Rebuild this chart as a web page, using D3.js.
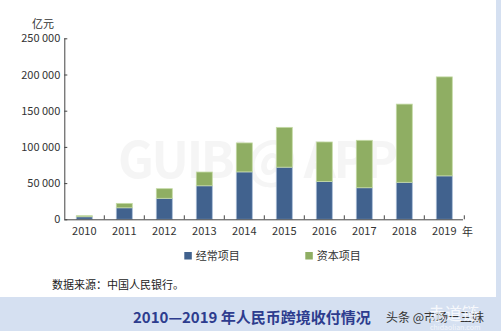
<!DOCTYPE html>
<html><head><meta charset="utf-8">
<script src="https://cdn.jsdelivr.net/npm/d3@7"></script>
<style>
html,body{margin:0;padding:0;background:#d5e0f1;}
svg{display:block;}
text{font-family:"Noto Sans CJK SC","Noto Sans",sans-serif;}
</style></head>
<body>
<svg id="c" width="501" height="331"></svg>
<script>
const years = ["2010","2011","2012","2013","2014","2015","2016","2017","2018","2019"];
const currentAccount = [3500, 15900, 29000, 46300, 65500, 72000, 52300, 43600, 51100, 60000];
const capitalAccount = [1500, 6100, 13300, 19000, 40000, 55000, 54500, 65500, 108000, 136700];
const seriesNames = ["经常项目", "资本项目"];
const yTicks = [0, 50000, 100000, 150000, 200000, 250000];
const colors = ["#41628e", "#8fae63"];
const strokes = ["#a9bdd6", "#c5dba6"];

const svg = d3.select("#c");
svg.append("rect").attr("x",0).attr("y",0).attr("width",496).attr("height",297).attr("fill","#ffffff");

const x = d3.scaleBand().domain(years).range([64.3, 464.3]).paddingInner(0.6).paddingOuter(0.3);
const y = d3.scaleLinear().domain([0, 250000]).range([219.3, 38.3]);

// watermark
svg.append("text").attr("x", 118).attr("y", 178).attr("font-size", 50).attr("font-weight", "bold")
  .attr("font-family", "'DejaVu Sans',sans-serif").attr("fill", "#cfcfcf").attr("opacity", 0.2)
  .attr("textLength", 280).text("GUIBI@ APP");

const data = years.map((yr, i) => ({year: yr, vals: [currentAccount[i], capitalAccount[i]]}));
const stack = d3.stack().keys([0,1]).value((d,k) => d.vals[k]);
const stacked = stack(data);

stacked.forEach((layer, k) => {
  svg.append("g").selectAll("rect").data(layer).enter().append("rect")
    .attr("x", d => x(d.data.year))
    .attr("width", x.bandwidth())
    .attr("y", d => y(d[1]))
    .attr("height", d => y(d[0]) - y(d[1]))
    .attr("fill", colors[k])
    .attr("stroke", strokes[k])
    .attr("stroke-width", 0.8);
});

// y axis
const yAxis = d3.axisRight(y).tickValues(yTicks).tickSize(3).tickFormat(d => d3.format(",")(d).replace(/,/g, " "));
const gy = svg.append("g").attr("transform", "translate(64.3,0)").call(yAxis);
gy.select(".domain").attr("stroke", "#444").attr("d", "M0.5," + y(250000) + "V" + y(0));
gy.selectAll(".tick line").attr("stroke", "#444");
gy.selectAll(".tick text").attr("x", -4).attr("text-anchor", "end").attr("font-size", 11).attr("fill", "#333")
  .attr("font-family", "'Noto Sans CJK SC',sans-serif");

svg.append("text").attr("x", 32).attr("y", 28).attr("font-size", 11).attr("fill", "#333").text("亿元");

// x axis
const gx = svg.append("g").attr("transform", "translate(0," + y(0) + ")");
gx.append("line").attr("x1", 64.3).attr("x2", 463).attr("y1", 0.5).attr("y2", 0.5).attr("stroke", "#444");
const boundaries = years.slice(1).map(yr => x(yr) - x.step() * x.paddingInner() / 2 - x.bandwidth() * 0 ).map(v => v);
// compute category boundaries from band scale
const bnd = years.map(yr => x(yr) + x.bandwidth() / 2 + x.step() / 2);
gx.selectAll("line.tk").data(bnd).enter().append("line").attr("class","tk")
  .attr("x1", d => d).attr("x2", d => d).attr("y1", 0).attr("y2", -4).attr("stroke", "#444");
gx.selectAll("text").data(years).enter().append("text")
  .attr("x", d => x(d) + x.bandwidth() / 2).attr("y", 16).attr("text-anchor", "middle")
  .attr("font-size", 11).attr("fill", "#333").text(d => d);
svg.append("text").attr("x", 462).attr("y", 236).attr("font-size", 11).attr("fill", "#333").text("年");

// legend
const legX = [184.3, 305.3];
seriesNames.forEach((n, i) => {
  svg.append("rect").attr("x", legX[i]).attr("y", 252).attr("width", 7.5).attr("height", 7.5).attr("fill", colors[i]);
  svg.append("text").attr("x", legX[i] + 11.5).attr("y", 259.8).attr("font-size", 11).attr("fill", "#333").text(n);
});

svg.append("text").attr("x", 52).attr("y", 289).attr("font-size", 11).attr("fill", "#222").text("数据来源：中国人民银行。");

// bottom title
svg.append("text").attr("x", 133).attr("y", 323).attr("font-size", 15).attr("font-weight", "bold")
  .attr("fill", "#2d3c8e").text("2010—2019 年人民币跨境收付情况");
svg.append("text").attr("x", 386).attr("y", 322).attr("font-size", 12).attr("fill", "#333").text("头条 @市场一三妹");
svg.append("text").attr("x", 428).attr("y", 320).attr("font-size", 17).attr("fill", "#ffffff").attr("opacity", 0.8).text("赤道链");
svg.append("text").attr("x", 430).attr("y", 330).attr("font-size", 7).attr("fill", "#ffffff").attr("opacity", 0.7).text("chidaolian.com");
</script>
</body></html>
